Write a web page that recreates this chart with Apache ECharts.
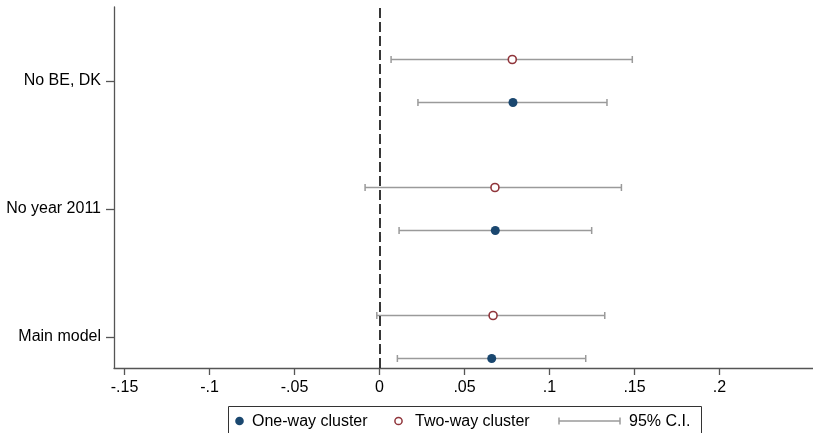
<!DOCTYPE html>
<html>
<head>
<meta charset="utf-8">
<script src="https://cdn.jsdelivr.net/npm/echarts@6/dist/echarts.min.js"></script>
<style>html,body{margin:0;padding:0;background:#fff}#c{width:813px;height:433px}</style>
</head>
<body>
<div id="c"></div>
<script>
// Data
var categories = ['Main model', 'No year 2011', 'No BE, DK'];
var oneWay   = [0.0660, 0.0681, 0.0785];
var oneWayLo = [0.0105, 0.0115, 0.0226];
var oneWayHi = [0.1213, 0.1248, 0.1338];
var twoWay   = [0.0668, 0.0679, 0.0781];
var twoWayLo = [-0.0016, -0.0085, 0.0068];
var twoWayHi = [0.1325, 0.1423, 0.1487];
var xTicks = [-0.15, -0.1, -0.05, 0, 0.05, 0.1, 0.15, 0.2];
var xTickLabels = ['-.15', '-.1', '-.05', '0', '.05', '.1', '.15', '.2'];
var yTicks = [1, 2, 3];

var OFF = 0.168;
var FONT = '"Liberation Sans", Arial, Helvetica, sans-serif';

function ciData(lo, hi, sign) {
  return lo.map(function (l, i) { return [l, hi[i], yTicks[i] + sign * OFF]; });
}
function ptData(v, sign) {
  return v.map(function (x, i) { return [x, yTicks[i] + sign * OFF]; });
}
function renderCI(params, api) {
  var a = api.coord([api.value(0), api.value(2)]);
  var b = api.coord([api.value(1), api.value(2)]);
  var h = 3.5;
  var st = { stroke: '#9a9a9a', lineWidth: 1.5 };
  return {
    type: 'group',
    children: [
      { type: 'line', shape: { x1: a[0], y1: a[1], x2: b[0], y2: b[1] }, style: st },
      { type: 'line', shape: { x1: a[0], y1: a[1] - h, x2: a[0], y2: a[1] + h }, style: st },
      { type: 'line', shape: { x1: b[0], y1: b[1] - h, x2: b[0], y2: b[1] + h }, style: st }
    ]
  };
}

var chart = echarts.init(document.getElementById('c'), null, { renderer: 'canvas' });
chart.setOption({
  animation: false,
  backgroundColor: '#fff',
  grid: { left: 114, top: 7, right: 0, bottom: 65, containLabel: false },
  xAxis: {
    type: 'value', min: -0.1562, max: 0.255,
    splitLine: { show: false },
    axisLine: { show: true, onZero: false, lineStyle: { color: '#555', width: 1.3 } },
    axisTick: { show: true, length: 7, customValues: xTicks, lineStyle: { color: '#555', width: 1.3 } },
    axisLabel: {
      customValues: xTicks, margin: 12, color: '#000', fontSize: 16, fontFamily: FONT,
      formatter: function (v) { var i = xTicks.findIndex(function (t) { return Math.abs(t - v) < 1e-9; }); return i >= 0 ? xTickLabels[i] : ''; }
    }
  },
  yAxis: {
    type: 'value', min: 0.758, max: 3.578,
    splitLine: { show: false },
    axisLine: { show: true, onZero: false, lineStyle: { color: '#555', width: 1.3 } },
    axisTick: { show: true, length: 8, customValues: yTicks, lineStyle: { color: '#555', width: 1.3 } },
    axisLabel: {
      customValues: yTicks, margin: 13, color: '#000', fontSize: 16, fontFamily: FONT,
      formatter: function (v) { var i = Math.round(v) - 1; return categories[i] || ''; }
    }
  },
  series: [
    {
      type: 'custom', name: 'CI two-way', renderItem: renderCI, data: ciData(twoWayLo, twoWayHi, 1),
      encode: { x: [0, 1], y: 2 }, z: 2,
      markLine: {
        silent: true, symbol: 'none', label: { show: false },
        lineStyle: { type: [10, 4], color: '#222', width: 1.8 },
        data: [{ xAxis: 0 }]
      }
    },
    { type: 'custom', name: 'CI one-way', renderItem: renderCI, data: ciData(oneWayLo, oneWayHi, -1), encode: { x: [0, 1], y: 2 }, z: 2 },
    {
      type: 'scatter', name: 'Two-way cluster', data: ptData(twoWay, 1), symbol: 'circle', symbolSize: 8, z: 3,
      itemStyle: { color: '#fff', borderColor: '#90353b', borderWidth: 1.6, opacity: 1 }
    },
    {
      type: 'scatter', name: 'One-way cluster', data: ptData(oneWay, -1), symbol: 'circle', symbolSize: 9, z: 3,
      itemStyle: { color: '#1a476f', opacity: 1 }
    }
  ],
  graphic: [
    { type: 'rect', left: 228, top: 406, shape: { width: 473, height: 40 }, style: { fill: '#fff', stroke: '#333', lineWidth: 1 }, z: 10 },
    { type: 'circle', shape: { cx: 239.5, cy: 421, r: 4.3 }, style: { fill: '#1a476f' }, z: 11 },
    { type: 'text', x: 252, y: 421.5, style: { text: 'One-way cluster', font: '16px ' + FONT, fill: '#000', verticalAlign: 'middle' }, z: 11 },
    { type: 'circle', shape: { cx: 398.5, cy: 421, r: 3.6 }, style: { fill: '#fff', stroke: '#90353b', lineWidth: 1.5 }, z: 11 },
    { type: 'text', x: 415, y: 421.5, style: { text: 'Two-way cluster', font: '16px ' + FONT, fill: '#000', verticalAlign: 'middle' }, z: 11 },
    { type: 'line', shape: { x1: 559, y1: 421, x2: 620, y2: 421 }, style: { stroke: '#9a9a9a', lineWidth: 1.5 }, z: 11 },
    { type: 'line', shape: { x1: 559, y1: 417.5, x2: 559, y2: 424.5 }, style: { stroke: '#9a9a9a', lineWidth: 1.5 }, z: 11 },
    { type: 'line', shape: { x1: 620, y1: 417.5, x2: 620, y2: 424.5 }, style: { stroke: '#9a9a9a', lineWidth: 1.5 }, z: 11 },
    { type: 'text', x: 629, y: 421.5, style: { text: '95% C.I.', font: '16px ' + FONT, fill: '#000', verticalAlign: 'middle' }, z: 11 }
  ]
});
</script>
</body>
</html>
